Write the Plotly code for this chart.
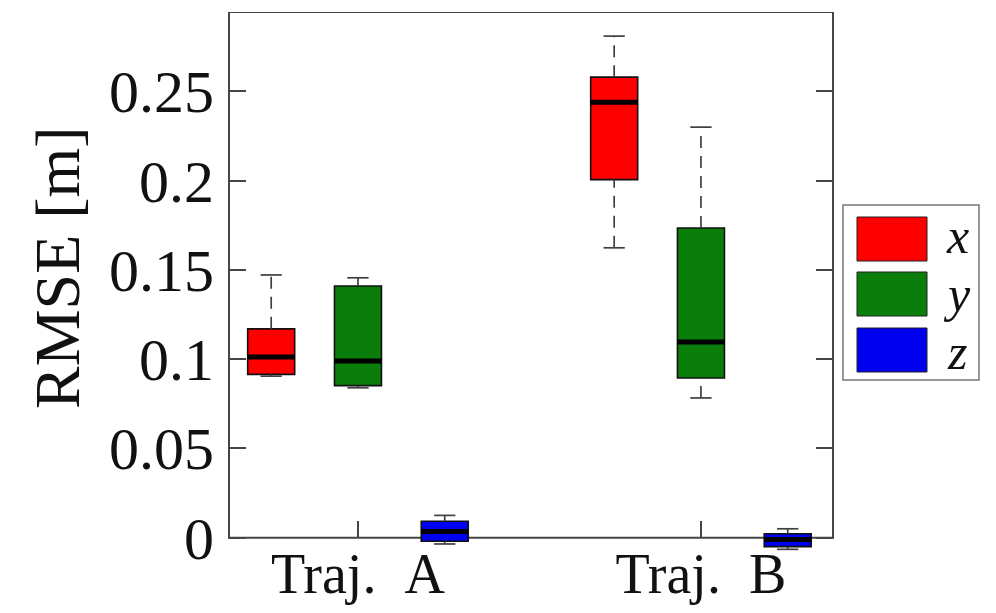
import plotly.graph_objects as go

# ---------------- data ----------------
categories = ["Traj. A", "Traj. B"]
series_names = ["x", "y", "z"]
series_colors = ["#ff0000", "#0b7d0b", "#0000f0"]

x_lowerfence = [0.0905, 0.1624]
x_q1 = [0.0915, 0.2006]
x_median = [0.1012, 0.2440]
x_q3 = [0.1170, 0.2580]
x_upperfence = [0.1472, 0.2810]

y_lowerfence = [0.0840, 0.0783]
y_q1 = [0.0852, 0.0895]
y_median = [0.0990, 0.1097]
y_q3 = [0.1410, 0.1735]
y_upperfence = [0.1456, 0.2300]

z_lowerfence = [-0.0035, -0.0065]
z_q1 = [-0.0020, -0.0050]
z_median = [0.0035, -0.0010]
z_q3 = [0.0092, 0.0022]
z_upperfence = [0.0125, 0.0050]

y_tick_values = [0, 0.05, 0.1, 0.15, 0.2, 0.25]
y_tick_labels = ["0", "0.05", "0.1", "0.15", "0.2", "0.25"]

y_title = "RMSE [m]"

stats = {
    "x": (x_lowerfence, x_q1, x_median, x_q3, x_upperfence),
    "y": (y_lowerfence, y_q1, y_median, y_q3, y_upperfence),
    "z": (z_lowerfence, z_q1, z_median, z_q3, z_upperfence),
}

# ---------------- layout constants ----------------
W, H = 996, 613
PAGE_OFF = 8  # default body margin of the html page
ML, MT = 229 - PAGE_OFF, 12 - PAGE_OFF
PW, PH = 604, 540
MR, MB = W - ML - PW, H - MT - PH
X_RANGE = [-0.376, 1.385]
Y_RANGE = [-0.008, 0.2945]
OFFSETS = [-0.253, 0.0, 0.253]
BOX_W = 0.137
CAP_HALF = 0.031
FONT = "Liberation Serif"
FRAME = "#454545"


def px_x(px):
    return (px - PAGE_OFF - ML) / PW


def px_y(py):
    return (MT + PH - (py - PAGE_OFF)) / PH


fig = go.Figure()

for k, name in enumerate(series_names):
    lf, q1, med, q3, uf = stats[name]
    centers = [i + OFFSETS[k] for i in range(len(categories))]
    fig.add_trace(go.Box(
        x=centers, q1=q1, median=med, q3=q3, lowerfence=q1, upperfence=q3,
        width=BOX_W, whiskerwidth=0, boxpoints=False,
        fillcolor=series_colors[k], line=dict(color="#111111", width=1.6),
        name=name, showlegend=False, hoverinfo="skip",
    ))
    # dashed whiskers
    wx, wy = [], []
    for c, a, b, c3, d in zip(centers, lf, q1, q3, uf):
        wx += [c, c, None, c, c, None]
        wy += [c3, d, None, a, b, None]
    fig.add_trace(go.Scatter(x=wx, y=wy, mode="lines", showlegend=False, hoverinfo="skip",
                             line=dict(color="#404040", width=1.7, dash="12px,8px")))
    # whisker caps
    cx, cy = [], []
    for c, a, d in zip(centers, lf, uf):
        cx += [c - CAP_HALF, c + CAP_HALF, None, c - CAP_HALF, c + CAP_HALF, None]
        cy += [d, d, None, a, a, None]
    fig.add_trace(go.Scatter(x=cx, y=cy, mode="lines", showlegend=False, hoverinfo="skip",
                             line=dict(color="#404040", width=1.7)))
    # thick median
    mx, my = [], []
    for c, m in zip(centers, med):
        mx += [c - BOX_W / 2, c + BOX_W / 2, None]
        my += [m, m, None]
    fig.add_trace(go.Scatter(x=mx, y=my, mode="lines", showlegend=False, hoverinfo="skip",
                             line=dict(color="#000000", width=5)))

shapes = [
    dict(type="rect", xref="paper", yref="y", x0=0, x1=1, y0=0, y1=Y_RANGE[1],
         line=dict(color=FRAME, width=2), layer="below"),
    # legend frame
    dict(type="rect", xref="paper", yref="paper", x0=px_x(843), x1=px_x(979),
         y0=px_y(380), y1=px_y(205), line=dict(color="#777777", width=1.5),
         fillcolor="white"),
]
annotations = [
    dict(text=y_title, xref="paper", yref="paper", x=px_x(57), y=px_y(268),
         textangle=-90, showarrow=False, font=dict(family=FONT, size=64, color="#111111"),
         xanchor="center", yanchor="middle"),
]
sw_tops = [217, 272, 328]
sw_h = 44
label_centers = [236, 294, 352]
for k, name in enumerate(series_names):
    t = sw_tops[k]
    shapes.append(dict(type="rect", xref="paper", yref="paper", x0=px_x(857), x1=px_x(927),
                       y0=px_y(t + sw_h), y1=px_y(t), fillcolor=series_colors[k],
                       line=dict(color="#222222", width=1)))
    annotations.append(dict(text="<i>" + name + "</i>", xref="paper", yref="paper",
                            x=px_x(957), y=px_y(label_centers[k]), showarrow=False,
                            xanchor="center", yanchor="middle",
                            font=dict(family=FONT, size=50, color="#111111")))

fig.update_layout(
    width=W, height=H,
    margin=dict(l=ML, r=MR, t=MT, b=MB, pad=0),
    paper_bgcolor="white", plot_bgcolor="white",
    boxmode="overlay",
    showlegend=False,
    shapes=shapes,
    annotations=annotations,
    xaxis=dict(
        range=X_RANGE, tickvals=list(range(len(categories))),
        ticktext=[c.replace(" ", "\u00a0\u00a0") for c in categories],
        anchor="free", position=(0 - Y_RANGE[0]) / (Y_RANGE[1] - Y_RANGE[0]),
        showline=False, showgrid=False, zeroline=False,
        ticks="inside", ticklen=17, tickwidth=1.5, tickcolor=FRAME, mirror="ticks",
        ticklabelstandoff=-2,
        tickfont=dict(family=FONT, size=56, color="#111111"),
    ),
    yaxis=dict(
        range=Y_RANGE, tickvals=y_tick_values, ticktext=y_tick_labels,
        showline=False, showgrid=False, zeroline=False,
        ticks="inside", ticklen=17, tickwidth=1.5, tickcolor=FRAME, mirror="ticks",
        ticklabelstandoff=14,
        tickfont=dict(family=FONT, size=60, color="#111111"),
    ),
)

fig.write_html("out.html")
